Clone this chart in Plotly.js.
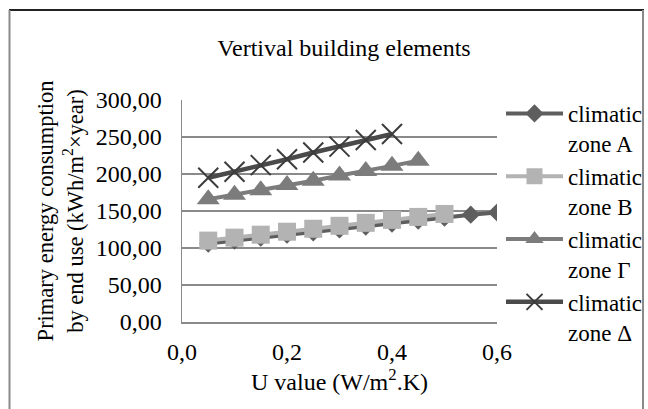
<!DOCTYPE html>
<html>
<head>
<meta charset="utf-8">
<script src="https://cdn.plot.ly/plotly-3.0.1.min.js"></script>
<style>
  html, body { margin: 0; padding: 0; background: #ffffff; }
  #chart { width: 648px; height: 409px; }
</style>
</head>
<body>
<div id="chart"></div>
<script>
// ---- data ----
const seriesNames = ["climatic<br>zone A", "climatic<br>zone B", "climatic<br>zone Γ", "climatic<br>zone Δ"];

const uZoneA = [0.05, 0.10, 0.15, 0.20, 0.25, 0.30, 0.35, 0.40, 0.45, 0.50, 0.55, 0.60];
const energyZoneA = [106, 110, 114, 118, 121, 125, 129, 133, 137, 141, 145, 148];

const uZoneB = [0.05, 0.10, 0.15, 0.20, 0.25, 0.30, 0.35, 0.40, 0.45, 0.50];
const energyZoneB = [110, 114, 118, 122, 126, 130, 134, 138, 142, 146];

const uZoneG = [0.05, 0.10, 0.15, 0.20, 0.25, 0.30, 0.35, 0.40, 0.45];
const energyZoneG = [166, 172, 178, 185, 191, 198, 204, 211, 218];

const uZoneD = [0.05, 0.10, 0.15, 0.20, 0.25, 0.30, 0.35, 0.40];
const energyZoneD = [195, 203, 212, 220, 229, 237, 246, 254];

const xTickVals = [0, 0.2, 0.4, 0.6];
const yTickVals = [0, 50, 100, 150, 200, 250, 300];

// ---- styling ----
const FONT = "Liberation Serif, Times New Roman, serif";
const W = 648, H = 409;
const L = 182, R = 497, T = 100, B = 322;
const px2x = p => (p - L) / (R - L);
const px2y = p => (B - p) / (B - T);

const traces = [
  { x: uZoneA, y: energyZoneA, name: seriesNames[0], legendgroup: "a",
    mode: "lines+markers", type: "scatter",
    line: { color: "#5e5e5e", width: 4 },
    marker: { symbol: "diamond", size: 14, color: "#5e5e5e" } },
  { x: uZoneB, y: energyZoneB, name: seriesNames[1], legendgroup: "b",
    mode: "lines+markers", type: "scatter",
    line: { color: "#b3b3b3", width: 4 },
    marker: { symbol: "square", size: 18, color: "#b3b3b3" } },
  { x: uZoneG, y: energyZoneG, name: seriesNames[2], legendgroup: "g",
    mode: "lines+markers", type: "scatter",
    line: { color: "#7c7c7c", width: 4 },
    marker: { symbol: "triangle-up", size: 20, color: "#7c7c7c" } },
  { x: uZoneD, y: energyZoneD, name: seriesNames[3], legendgroup: "d",
    mode: "lines+markers", type: "scatter",
    line: { color: "#4a4a4a", width: 4.5 },
    marker: { symbol: "x-thin-open", size: 20, color: "#3c3c3c", line: { color: "#3c3c3c", width: 2 } } }
];

const layout = {
  width: W, height: H,
  margin: { l: L, r: W - R, t: T, b: H - B, pad: 0 },
  paper_bgcolor: "#ffffff",
  plot_bgcolor: "#ffffff",
  separators: ", ",
  font: { family: FONT, size: 24, color: "#000000" },
  showlegend: true,
  title: {
    text: "Vertival building elements",
    font: { family: FONT, size: 24, color: "#000000" },
    x: px2x(344), xanchor: "center", xref: "paper",
    y: 1 - 48 / H, yanchor: "middle", yref: "container"
  },
  xaxis: {
    range: [0, 0.6], tickvals: xTickVals, tickformat: ".1f",
    showgrid: false, zeroline: false,
    showline: true, linecolor: "#8a8a8a", linewidth: 1.5,
    ticks: "", ticklabelstandoff: 8,
    tickfont: { family: FONT, size: 24, color: "#000000" },
    title: { text: "U value (W/m<sup>2</sup>.K)", font: { family: FONT, size: 24, color: "#000000" }, standoff: 0 },
    fixedrange: true
  },
  yaxis: {
    range: [0, 300], tickvals: yTickVals, tickformat: ".2f",
    showgrid: true, gridcolor: "#8a8a8a", gridwidth: 1.5,
    zeroline: false,
    showline: true, linecolor: "#8a8a8a", linewidth: 1.5,
    ticks: "", ticklabelstandoff: 14,
    tickfont: { family: FONT, size: 24, color: "#000000" },
    title: { text: "Primary energy consumption<br>by end use (kWh/m<sup>2</sup>×year)", font: { family: FONT, size: 22.5, color: "#000000" }, standoff: 6 },
    fixedrange: true
  },
  legend: {
    xref: "container", x: 1, xanchor: "right",
    y: px2y(92), yanchor: "top",
    bgcolor: "rgba(0,0,0,0)", borderwidth: 0,
    font: { family: FONT, size: 23, color: "#000000" },
    valign: "top", itemwidth: 57, tracegroupgap: 7,
    traceorder: "normal", maxheight: 400
  },
  shapes: [
    { type: "line", xref: "paper", yref: "paper", x0: px2x(9), x1: px2x(644), y0: px2y(10), y1: px2y(10), line: { color: "#222222", width: 2 } },
    { type: "line", xref: "paper", yref: "paper", x0: px2x(9.5), x1: px2x(9.5), y0: px2y(10), y1: px2y(409), line: { color: "#8a8a8a", width: 2 } },
    { type: "line", xref: "paper", yref: "paper", x0: px2x(643), x1: px2x(643), y0: px2y(10), y1: px2y(409), line: { color: "#8a8a8a", width: 2 } }
  ]
};

Plotly.newPlot("chart", traces, layout, { displayModeBar: false, staticPlot: true });
</script>
</body>
</html>
